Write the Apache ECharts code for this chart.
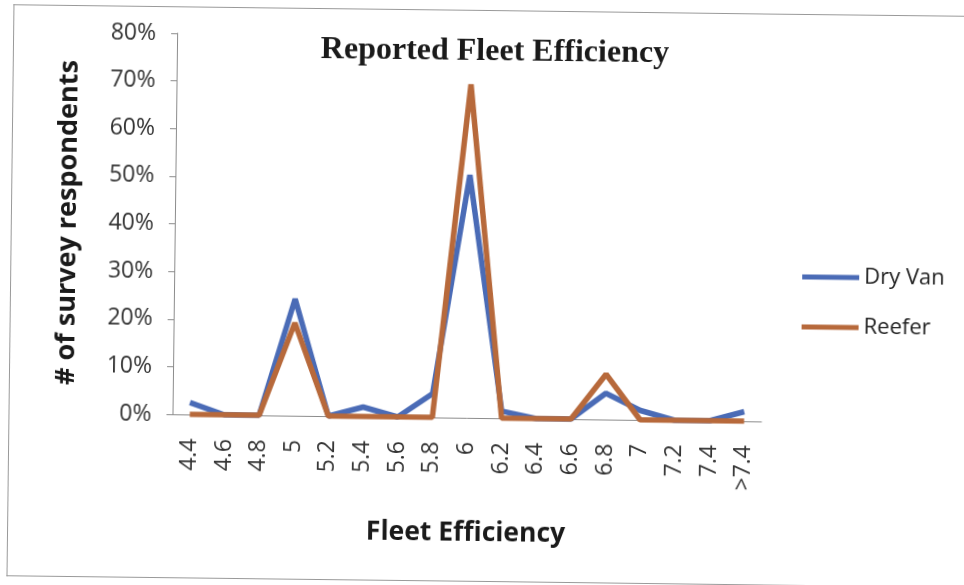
<!DOCTYPE html>
<html>
<head>
<meta charset="utf-8">
<script src="https://cdn.jsdelivr.net/npm/echarts@6/dist/echarts.min.js"></script>
<style>
  html, body { margin: 0; padding: 0; background: #ffffff; overflow: hidden; }
  #frame {
    position: relative; width: 964px; height: 585px;
    transform: rotate(0.7deg); transform-origin: 482px 292px;
  }
  #border {
    position: absolute; left: 10px; top: 10px; width: 1000px; height: 572px;
    border: 1.5px solid #9a9a9a; border-right: none; box-sizing: border-box;
  }
  #chart { position: absolute; left: 0; top: 0; width: 964px; height: 585px; }
</style>
</head>
<body>
<div id="frame">
  <div id="border"></div>
  <div id="chart"></div>
</div>
<script>
// Fleet efficiency bins (x axis)
const categories = ['4.4', '4.6', '4.8', '5', '5.2', '5.4', '5.6', '5.8', '6',
                    '6.2', '6.4', '6.6', '6.8', '7', '7.2', '7.4', '>7.4'];
// Share of survey respondents per bin
const dryVan = [0.025, 0, 0, 0.245, 0, 0.02, 0, 0.05, 0.51, 0.015, 0, 0, 0.055, 0.02, 0, 0, 0.02];
const reefer = [0, 0, 0, 0.195, 0, 0, 0, 0, 0.70, 0, 0, 0, 0.095, 0, 0, 0, 0];
const seriesNames = ['Dry Van', 'Reefer'];
const seriesColors = ['#4a6bb6', '#b7693b'];

const chart = echarts.init(document.getElementById('chart'), null, { renderer: 'canvas' });
const sans = "'Open Sans', 'Noto Sans', sans-serif";

chart.setOption({
  backgroundColor: 'transparent',
  animation: false,
  title: {
    text: 'Reported Fleet Efficiency',
    left: 487, top: 31, textAlign: 'center',
    textStyle: { fontFamily: "'Liberation Serif', serif", fontWeight: 'bold', fontSize: 32, color: '#1a1a1a' }
  },
  legend: {
    orient: 'vertical', left: 797, top: 257,
    icon: 'rect', itemWidth: 57, itemHeight: 5, itemGap: 28,
    textStyle: { fontFamily: sans, fontSize: 22, color: '#222' },
    data: seriesNames
  },
  grid: { left: 174, right: 201, top: 37, bottom: 167, containLabel: false },
  xAxis: {
    type: 'category', data: categories, boundaryGap: true,
    name: 'Fleet Efficiency', nameLocation: 'middle', nameGap: 102,
    nameTextStyle: { fontFamily: sans, fontWeight: 'bold', fontSize: 26.5, color: '#1a1a1a' },
    axisLine: { lineStyle: { color: '#8c8c8c', width: 1 } },
    axisTick: { length: 6, lineStyle: { color: '#8c8c8c' } },
    axisLabel: { rotate: 90, margin: 24, fontFamily: sans, fontSize: 23, color: '#333', interval: 0 }
  },
  yAxis: {
    type: 'value', min: 0, max: 0.8, interval: 0.1,
    name: '# of survey respondents', nameLocation: 'middle', nameRotate: 90, nameGap: 93,
    nameTextStyle: { fontFamily: sans, fontWeight: 'bold', fontSize: 27, color: '#1a1a1a' },
    axisLine: { show: true, lineStyle: { color: '#8c8c8c', width: 1 } },
    axisTick: { show: true, length: 6, lineStyle: { color: '#8c8c8c' } },
    splitLine: { show: false },
    axisLabel: {
      margin: 21, fontFamily: sans, fontSize: 23, color: '#333',
      formatter: v => Math.round(v * 100) + '%'
    }
  },
  series: [
    { name: seriesNames[0], type: 'line', data: dryVan, symbol: 'none',
      lineStyle: { width: 5.5, color: seriesColors[0] }, itemStyle: { color: seriesColors[0] } },
    { name: seriesNames[1], type: 'line', data: reefer, symbol: 'none',
      lineStyle: { width: 5.5, color: seriesColors[1] }, itemStyle: { color: seriesColors[1] } }
  ]
});
</script>
</body>
</html>
